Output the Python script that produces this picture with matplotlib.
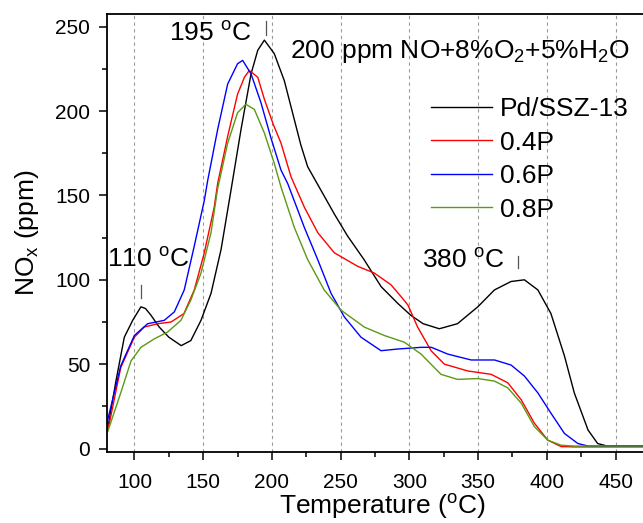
import matplotlib

matplotlib.use("Agg")
import matplotlib.pyplot as plt
from matplotlib.ticker import MultipleLocator

plt.rcParams["font.family"] = ["Liberation Sans", "DejaVu Sans"]
plt.rcParams["mathtext.fontset"] = "custom"
plt.rcParams["mathtext.rm"] = "Liberation Sans"
plt.rcParams["mathtext.it"] = "Liberation Sans:italic"

# Pd/SSZ-13
t_pd = [80, 81, 86.5, 92.6, 98.7, 104.7, 108, 112, 118, 125, 134, 141, 148.4, 155.7,
        163, 170, 177.5, 184.8, 189.7, 194.5, 201.7, 209, 215, 221, 226, 235.7, 245.4,
        255, 267, 279.4, 291.6, 301, 310, 321.8, 335, 349.8, 361.9, 374, 383.7, 393.5,
        403, 412.8, 420, 425, 430, 437, 444, 455, 470]
no_pd = [11, 14, 40, 66, 76, 84, 83, 79, 72, 66, 61, 64, 76, 92,
         118, 152, 189, 222, 236, 242, 234, 218, 199, 180, 167, 153, 139,
         126, 112, 96, 86, 79, 74, 71, 74, 84, 94, 99, 100, 94,
         80, 55, 33, 22, 11, 3, 1.5, 1.5, 1.5]

# 0.4P
t_04 = [80, 81.7, 90, 99.9, 107, 117, 126.6, 136, 143.5, 150.8, 158, 160.5, 167.8,
        175, 180, 183.5, 189.7, 194.5, 201, 206.6, 213.9, 223.6, 233.3, 245.4, 262.4,
        274.5, 286.7, 294, 299, 306, 315.8, 325.5, 342.5, 359.5, 371.6, 381.3, 391,
        400.7, 410.4, 420, 440, 470]
no_04 = [11, 15, 48, 66, 72, 74, 75, 80, 94, 116, 143, 157, 185,
         210, 220, 224, 220, 207, 192, 181, 161, 143, 128, 116, 108,
         104, 97, 90, 85, 72, 58, 50, 46, 44, 39, 29, 15,
         5, 1.2, 1, 1, 1]

# 0.6P
t_06 = [80, 80.5, 90, 99.9, 109.6, 121.7, 129, 136.2, 143.5, 150.8, 153.3, 160.5,
        167.8, 175, 178.7, 184.8, 192, 199.3, 206.6, 211.5, 223.6, 233.3, 243, 252.7,
        264.8, 279.4, 291.6, 308.5, 316, 327.9, 345, 362, 374, 383.7, 393.5, 403,
        412.8, 422.6, 430, 450, 470]
no_06 = [12, 17, 49, 67, 74, 76, 81, 94, 120, 147, 159, 189,
         216, 228, 230, 222, 205, 184, 165, 157, 131, 112, 92, 78,
         66, 58, 59, 60, 60, 56, 52.5, 52.5, 49.5, 43, 33, 21,
         9, 3, 1.5, 1.5, 1.5]

# 0.8P
t_08 = [80, 80.5, 90, 97.5, 104.7, 114.4, 124, 133.8, 141, 148.4, 155.7, 160.5,
        167.8, 175, 181, 187.2, 194.5, 201.7, 206.6, 216.3, 226, 238, 250.3, 267.2,
        281.8, 296.4, 308.5, 323, 335, 349.8, 361.9, 371.6, 381.3, 391, 400.7, 410.4,
        420, 470]
no_08 = [10, 10, 33, 52, 60, 65, 69, 76, 88, 104, 128, 154,
         181, 199, 204, 201, 187, 169, 155, 131, 112, 94, 82, 72,
         67, 63, 56, 44, 41, 41.5, 40, 36, 27, 13, 5, 2,
         1.5, 1.5]

series = [
    ("Pd/SSZ-13", t_pd, no_pd, "#000000"),
    ("0.4P", t_04, no_04, "#ff0000"),
    ("0.6P", t_06, no_06, "#0000ff"),
    ("0.8P", t_08, no_08, "#5b9a12"),
]

# peak labels: text, text position, marker x, marker y range
peak_labels = ["110 $^{\\rm o}$C", "195 $^{\\rm o}$C", "380 $^{\\rm o}$C"]
peak_text_x = [110, 155, 339.5]
peak_text_y = [112, 246, 111]
peak_mark_x = [104.7, 195.7, 379]
peak_mark_y0 = [89, 245, 107]
peak_mark_y1 = [97, 253.5, 114]

fig = plt.figure(figsize=(6.43, 5.23), dpi=100)
ax = fig.add_axes([0.1664, 0.1358, 0.855, 0.8375])

for x in range(100, 451, 50):
    ax.axvline(x, color="#9a9a9a", linestyle=(0, (3, 3)), linewidth=0.8, zorder=0)

for name, t, y, c in series:
    ax.plot(t, y, color=c, linewidth=1.0, label=name)

for i in range(len(peak_labels)):
    ax.text(peak_text_x[i], peak_text_y[i], peak_labels[i], fontsize=19,
            ha="center", va="center")
    ax.plot([peak_mark_x[i], peak_mark_x[i]], [peak_mark_y0[i], peak_mark_y1[i]],
            color="#555555", linewidth=0.9)

ax.text(213, 235, "200 ppm NO+8%O$_2$+5%H$_2$O", fontsize=19, ha="left", va="center")

ax.set_xlim(80, 480)
ax.set_ylim(-2, 257.5)
ax.xaxis.set_major_locator(MultipleLocator(50))
ax.xaxis.set_minor_locator(MultipleLocator(25))
ax.yaxis.set_major_locator(MultipleLocator(50))
ax.yaxis.set_minor_locator(MultipleLocator(25))
ax.tick_params(which="major", direction="out", length=6, width=1.1, labelsize=15)
ax.tick_params(which="minor", direction="out", length=3.5, width=1.1)
ax.tick_params(axis="x", which="major", pad=9)
ax.tick_params(axis="y", which="major", pad=6)
for s in ax.spines.values():
    s.set_linewidth(1.3)

ax.set_xlabel("Temperature ($^{\\rm o}$C)", fontsize=19, labelpad=0)
ax.set_ylabel("NO$_{\\rm x}$ (ppm)", fontsize=19, labelpad=10)

ax.legend(loc="upper left", bbox_to_anchor=(418 / 643, 1 - 84 / 523),
          bbox_transform=fig.transFigure, frameon=False, fontsize=19,
          handlelength=2.3, handletextpad=0.3, labelspacing=0.36, borderpad=0)

fig.savefig("out.png", dpi=100)
plt.close()
